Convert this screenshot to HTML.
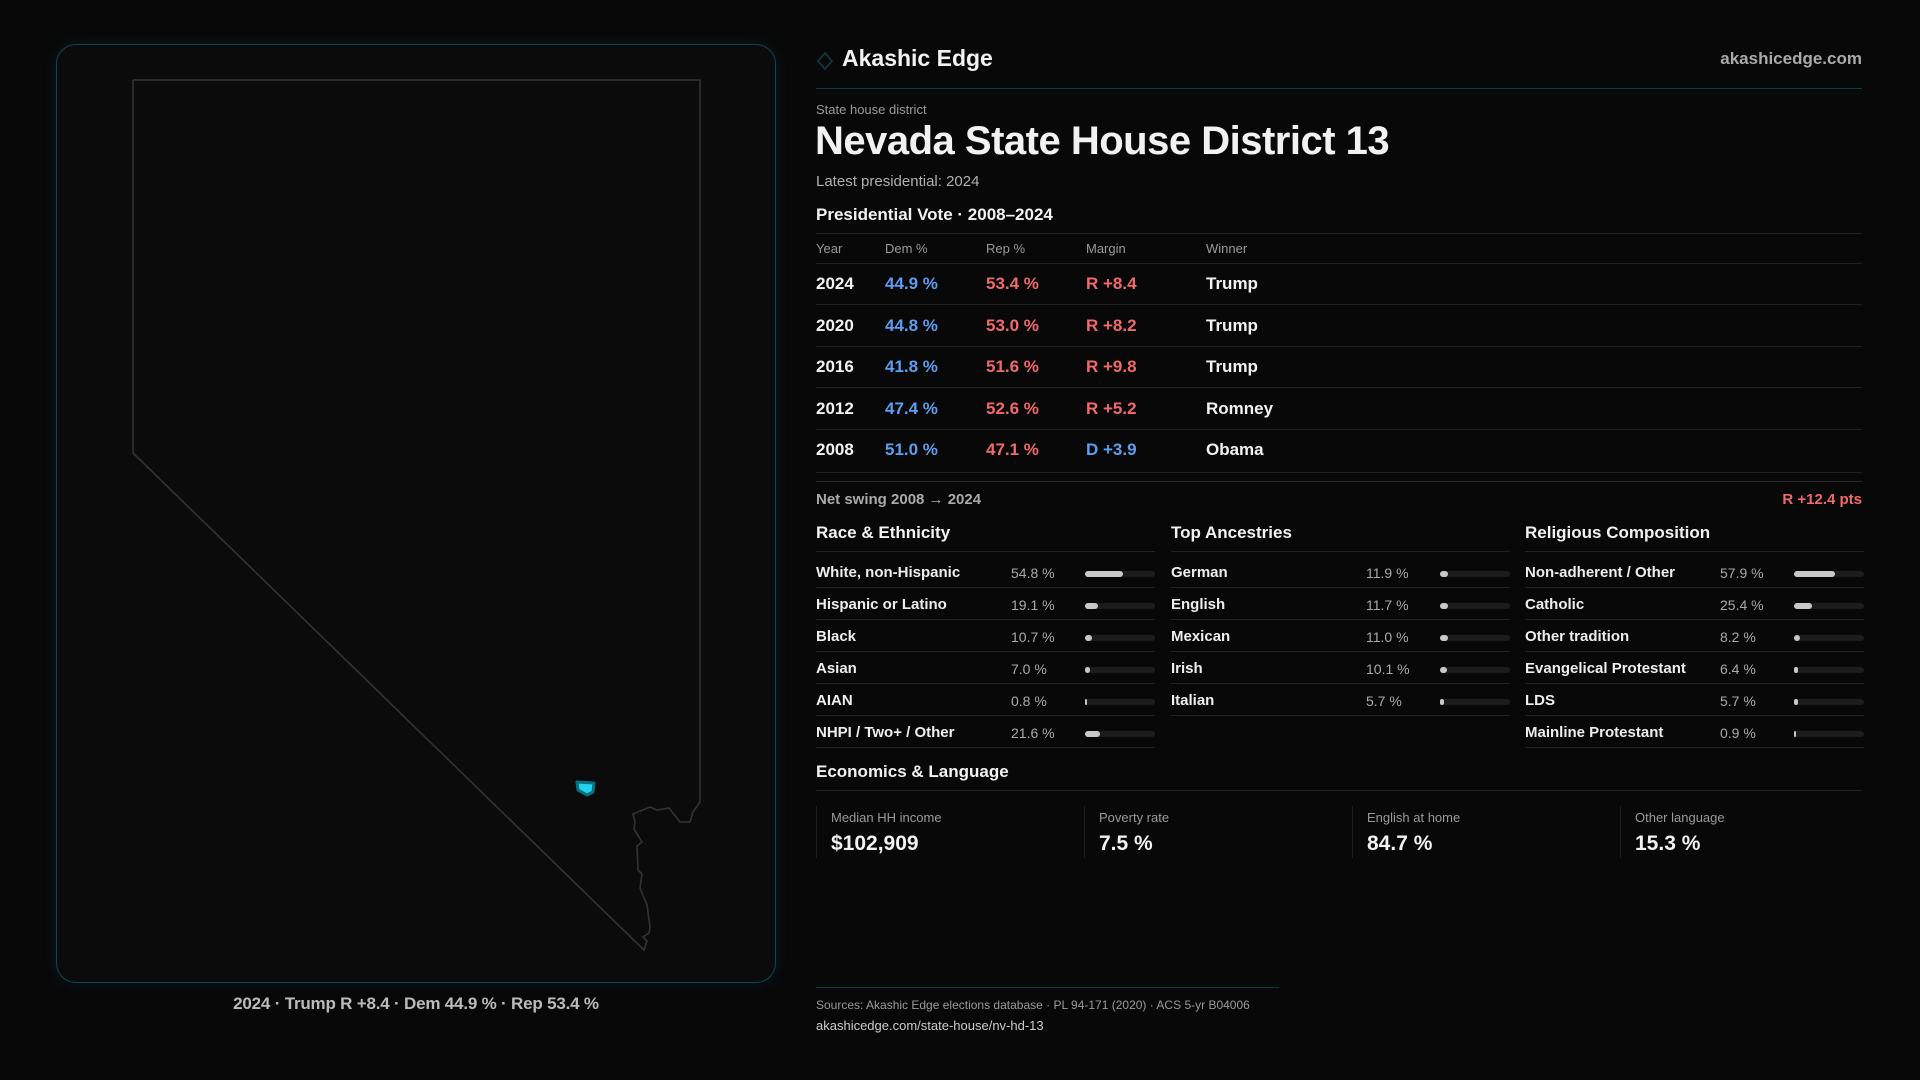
<!DOCTYPE html>
<html><head><meta charset="utf-8"><style>
*{margin:0;padding:0;box-sizing:border-box}
body{width:1920px;height:1080px;background:#080808;color:#f2f2f2;font-family:"Liberation Sans",sans-serif;position:relative;overflow:hidden}
.a{position:absolute;white-space:nowrap}
.panel{position:absolute;left:56px;top:44px;width:720px;height:939px;border:1.5px solid #0d4654;border-radius:20px;background:#0c0b0c;box-shadow:0 0 14px rgba(20,110,130,.18)}
.hl{position:absolute;height:1px;background:#222}
.blue{color:#5b9ef2}.red{color:#f06a6a}
.dim{color:#9a9a9a}
.row{font-size:17px;font-weight:bold}
.dl{font-size:15px;font-weight:bold;color:#eee}
.dp{font-size:14px;color:#aaa}
.bar{position:absolute;height:6px;width:70px;background:#1c1c1c;border-radius:3px}
.bar i{position:absolute;left:0;top:0;height:6px;background:#c8c8c8;border-radius:3px}
</style></head><body>
<div class="panel"></div>
<svg class="a" style="left:0;top:0" width="800" height="1000">
<polyline fill="none" stroke="#333" stroke-width="1.6" points="133,80 700,80 700,802 693,812 690,822 680,822 669,808 657,810 650,807 633,814 635,822 634,829 642,842 637,846 638,870 642,874 640,888 647,905 650,927 649,933 643,937 647,941 644,950 133,453 133,80"/>
<path d="M577,782 L594,783 L593,792 L587,795 L578,790 Z" fill="#22d3ee" stroke="#0b6f7f" stroke-width="3" stroke-linejoin="round"/>
</svg>
<div class="a" style="left:0;width:832px;text-align:center;top:994px;font-size:17px;font-weight:bold;color:#bbb;letter-spacing:-0.2px">2024 · Trump R +8.4 · Dem 44.9 % · Rep 53.4 %</div>

<svg class="a" style="left:817px;top:52px" width="16" height="18"><path d="M8,1 L15,9 L8,17 L1,9 Z" fill="none" stroke="#0b3f48" stroke-width="1.5"/></svg>
<div class="a" style="left:842px;top:45px;font-size:23px;font-weight:bold">Akashic Edge</div>
<div class="a" style="right:58px;top:49px;font-size:17px;font-weight:bold;color:#aaa">akashicedge.com</div>
<div class="hl" style="left:816px;width:1046px;top:88px;background:#0d3c46"></div>
<div class="a dim" style="left:816px;top:102px;font-size:13px">State house district</div>
<div class="a" style="left:815px;top:119px;font-size:40px;font-weight:bold;letter-spacing:-0.5px">Nevada State House District 13</div>
<div class="a dim" style="left:816px;top:173px;font-size:15px;color:#b0b0b0">Latest presidential: 2024</div>
<div class="a" style="left:816px;top:205px;font-size:17px;font-weight:bold">Presidential Vote · 2008–2024</div>
<div class="hl" style="left:816px;width:1046px;top:233px"></div>
<div class="a dim" style="left:816px;top:241px;font-size:13px">Year</div>
<div class="a dim" style="left:885px;top:241px;font-size:13px">Dem %</div>
<div class="a dim" style="left:986px;top:241px;font-size:13px">Rep %</div>
<div class="a dim" style="left:1086px;top:241px;font-size:13px">Margin</div>
<div class="a dim" style="left:1206px;top:241px;font-size:13px">Winner</div>
<div class="hl" style="left:816px;width:1046px;top:263px"></div>

<div class="a row" style="left:816px;top:274px">2024</div><div class="a row blue" style="left:885px;top:274px">44.9 %</div><div class="a row red" style="left:986px;top:274px">53.4 %</div><div class="a row red" style="left:1086px;top:274px">R +8.4</div><div class="a row" style="left:1206px;top:274px">Trump</div>
<div class="hl" style="left:816px;width:1046px;top:304px"></div>
<div class="a row" style="left:816px;top:316px">2020</div><div class="a row blue" style="left:885px;top:316px">44.8 %</div><div class="a row red" style="left:986px;top:316px">53.0 %</div><div class="a row red" style="left:1086px;top:316px">R +8.2</div><div class="a row" style="left:1206px;top:316px">Trump</div>
<div class="hl" style="left:816px;width:1046px;top:346px"></div>
<div class="a row" style="left:816px;top:357px">2016</div><div class="a row blue" style="left:885px;top:357px">41.8 %</div><div class="a row red" style="left:986px;top:357px">51.6 %</div><div class="a row red" style="left:1086px;top:357px">R +9.8</div><div class="a row" style="left:1206px;top:357px">Trump</div>
<div class="hl" style="left:816px;width:1046px;top:387px"></div>
<div class="a row" style="left:816px;top:399px">2012</div><div class="a row blue" style="left:885px;top:399px">47.4 %</div><div class="a row red" style="left:986px;top:399px">52.6 %</div><div class="a row red" style="left:1086px;top:399px">R +5.2</div><div class="a row" style="left:1206px;top:399px">Romney</div>
<div class="hl" style="left:816px;width:1046px;top:429px"></div>
<div class="a row" style="left:816px;top:440px">2008</div><div class="a row blue" style="left:885px;top:440px">51.0 %</div><div class="a row red" style="left:986px;top:440px">47.1 %</div><div class="a row blue" style="left:1086px;top:440px">D +3.9</div><div class="a row" style="left:1206px;top:440px">Obama</div>
<div class="hl" style="left:816px;width:1046px;top:472px"></div>
<div class="hl" style="left:816px;width:1046px;top:481px;background:#2a2a2a"></div>
<div class="a" style="left:816px;top:491px;font-size:15px;color:#aaa;font-weight:bold">Net swing 2008 → 2024</div>
<div class="a red" style="right:58px;top:491px;font-size:15px;font-weight:bold">R +12.4 pts</div>

<div class="a" style="left:816px;top:523px;font-size:17px;font-weight:bold">Race &amp; Ethnicity</div>
<div class="a" style="left:1171px;top:523px;font-size:17px;font-weight:bold">Top Ancestries</div>
<div class="a" style="left:1525px;top:523px;font-size:17px;font-weight:bold">Religious Composition</div>
<div id="cols"></div>

<div class="a" style="left:816px;top:762px;font-size:17px;font-weight:bold">Economics &amp; Language</div>
<div class="hl" style="left:816px;width:1046px;top:790px"></div>
<div class="a" style="left:816px;top:806px;width:1px;height:52px;background:#1e1e1e"></div>
<div class="a" style="left:1084px;top:806px;width:1px;height:52px;background:#1e1e1e"></div>
<div class="a" style="left:1352px;top:806px;width:1px;height:52px;background:#1e1e1e"></div>
<div class="a" style="left:1620px;top:806px;width:1px;height:52px;background:#1e1e1e"></div>
<div class="a dim" style="left:831px;top:810px;font-size:13px">Median HH income</div><div class="a" style="left:831px;top:832px;font-size:21px;font-weight:bold">$102,909</div>
<div class="a dim" style="left:1099px;top:810px;font-size:13px">Poverty rate</div><div class="a" style="left:1099px;top:832px;font-size:21px;font-weight:bold">7.5 %</div>
<div class="a dim" style="left:1367px;top:810px;font-size:13px">English at home</div><div class="a" style="left:1367px;top:832px;font-size:21px;font-weight:bold">84.7 %</div>
<div class="a dim" style="left:1635px;top:810px;font-size:13px">Other language</div><div class="a" style="left:1635px;top:832px;font-size:21px;font-weight:bold">15.3 %</div>

<div class="hl" style="left:816px;width:463px;top:987px;background:#0d3c46"></div>
<div class="a dim" style="left:816px;top:998px;font-size:12px">Sources: Akashic Edge elections database · PL 94-171 (2020) · ACS 5-yr B04006</div>
<div class="a" style="left:816px;top:1018px;font-size:13px;color:#ccc">akashicedge.com/state-house/nv-hd-13</div>

<script>
var data=[[816,[["White, non-Hispanic","54.8 %",54.8],["Hispanic or Latino","19.1 %",19.1],["Black","10.7 %",10.7],["Asian","7.0 %",7],["AIAN","0.8 %",0.8],["NHPI / Two+ / Other","21.6 %",21.6]]],
[1171,[["German","11.9 %",11.9],["English","11.7 %",11.7],["Mexican","11.0 %",11],["Irish","10.1 %",10.1],["Italian","5.7 %",5.7]]],
[1525,[["Non-adherent / Other","57.9 %",57.9],["Catholic","25.4 %",25.4],["Other tradition","8.2 %",8.2],["Evangelical Protestant","6.4 %",6.4],["LDS","5.7 %",5.7],["Mainline Protestant","0.9 %",0.9]]]];
var h="";data.forEach(function(c){var x=c[0];h+='<div class="hl" style="left:'+x+'px;width:339px;top:551px"></div>';c[1].forEach(function(r,i){var y=564+i*32;h+='<div class="a dl" style="left:'+x+'px;top:'+y+'px">'+r[0]+'</div><div class="a dp" style="left:'+(x+195)+'px;top:'+(y+1)+'px">'+r[1]+'</div><div class="bar" style="left:'+(x+269)+'px;top:'+(y+7)+'px"><i style="width:'+Math.max(2,r[2]*0.7)+'px"></i></div><div class="hl" style="left:'+x+'px;width:339px;top:'+(y+23)+'px"></div>';});});
document.getElementById("cols").innerHTML=h;
</script>
</body></html>
